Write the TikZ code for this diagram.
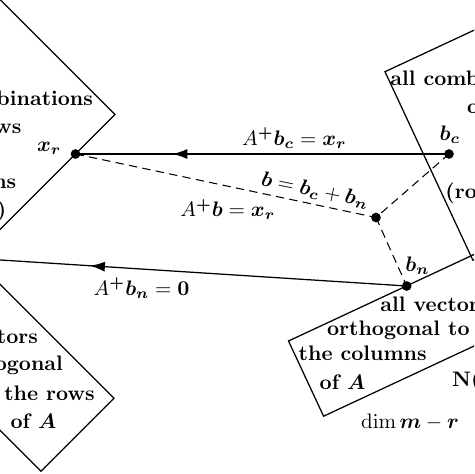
\documentclass[tikz,border=0pt]{standalone}
\usepackage{bm}
\usetikzlibrary{arrows.meta,decorations.markings}
\begin{document}
\begin{tikzpicture}[x=0.476pt,y=-0.476pt,
  box/.style={draw,line width=0.6pt},
  dot/.style={circle,fill,inner sep=0pt,minimum size=4.6pt},
  txt/.style={inner sep=0pt,font=\normalsize\bfseries\boldmath},
  lbl/.style={inner sep=0pt,font=\normalsize},
  dline/.style={line width=0.5pt,dash pattern=on 4pt off 2.5pt},
  sline/.style={line width=0.6pt},
  midarrow/.style={postaction={decorate},decoration={markings,mark=at position #1 with {\arrow{Latex[length=7pt,width=4.8pt]}}}}
]
\useasboundingbox (0,0) rectangle (474,474);
\clip (0,0) rectangle (474,474);

% subspaces
\draw[box] (115,114.5) -- (-85,-85.5) -- (-235,64.5) -- (-35,264.5) -- cycle;
\draw[box] (114,398.3) -- (41,471.3) -- (-159,271.3) -- (-86,198.3) -- cycle;
\draw[box] (385,71.7) -- (472.9,260.2) -- (654.2,175.7) -- (566.3,-12.8) -- cycle;
\draw[box] (288.5,341) -- (515.1,235.3) -- (550.2,310.5) -- (323.6,416.2) -- cycle;

% points
\coordinate (xrp) at (75.5,154);
\coordinate (bcp) at (449,154);
\coordinate (bbp) at (376,217.5);
\coordinate (bnp) at (406.7,286);
\coordinate (zero) at (-12,259.2);

\draw[sline,midarrow=0.74] (bcp) -- (xrp);
\draw[sline,midarrow=0.756] (bnp) -- (zero);
\draw[dline] (xrp) -- (bbp) -- (bcp);
\draw[dline] (bbp) -- (bnp);

\node[dot] (xr) at (xrp) {};
\node[dot] (bc) at (bcp) {};
\node[dot] (bb) at (bbp) {};
\node[dot] (bn) at (bnp) {};

% labels
\node[lbl,anchor=base west] (lxr) at (36.7,151.7) {$\bm{x}_{\bm{r}}$};
\node[lbl,anchor=base west] (lbc) at (439.3,140) {$\bm{b}_{\bm{c}}$};
\node[lbl,anchor=base west] (lbn) at (405,271.7) {$\bm{b}_{\bm{n}}$};
\node[lbl,anchor=base west] (l1) at (241.7,145) {$A^{\bm{+}}\bm{b}_{\bm{c}}=\bm{x}_{\bm{r}}$};
\node[lbl,anchor=base west,rotate=-11.5] (l2) at (260,185.5) {$\bm{b}=\bm{b}_{\bm{c}}+\bm{b}_{\bm{n}}$};
\node[lbl,anchor=base west] (l3) at (180,216.7) {$A^{\bm{+}}\bm{b}=\bm{x}_{\bm{r}}$};
\node[lbl,anchor=base west] (l4) at (93.3,295) {$A^{\bm{+}}\bm{b}_{\bm{n}}=\bm{0}$};

% row space text
\node[txt,anchor=base east] (r1) at (93.3,105) {all combinations};
\node[txt,anchor=base east] (r2) at (21.7,133) {of the rows};
\node[txt,anchor=base east] (r3) at (16.7,188) {(the columns};
\node[txt,anchor=base east] (r4) at (6.7,216) {of $A^T$)};

% nullspace text
\node[txt,anchor=base east] (n1) at (38.3,343.3) {all vectors};
\node[txt,anchor=base east] (n2) at (63.3,370.7) {orthogonal};
\node[txt,anchor=base east] (n3) at (95,400) {to the rows};
\node[txt,anchor=base east] (n4) at (56.7,428.3) {of $A$};

% column space text
\node[txt,anchor=base west] (c1) at (390,85) {all combinations};
\node[txt,anchor=base west] (c2) at (466.7,113) {of the columns};
\node[txt,anchor=base west] (c3) at (445,198.3) {(row space of $A^T$)};

% left nullspace text
\node[txt,anchor=base west] (m1) at (380,311.7) {all vectors};
\node[txt,anchor=base west] (m2) at (326.7,335) {orthogonal to};
\node[txt,anchor=base west] (m3) at (298.3,360.7) {the columns};
\node[txt,anchor=base west] (m4) at (319.3,389.3) {of $A$};
\node[txt,anchor=base west] (m5) at (451.7,386.7) {N$(A^T)$};
\node[lbl,anchor=base west] (m6) at (360.7,428.3) {$\dim \bm{m}-\bm{r}$};
\end{tikzpicture}
\end{document}
